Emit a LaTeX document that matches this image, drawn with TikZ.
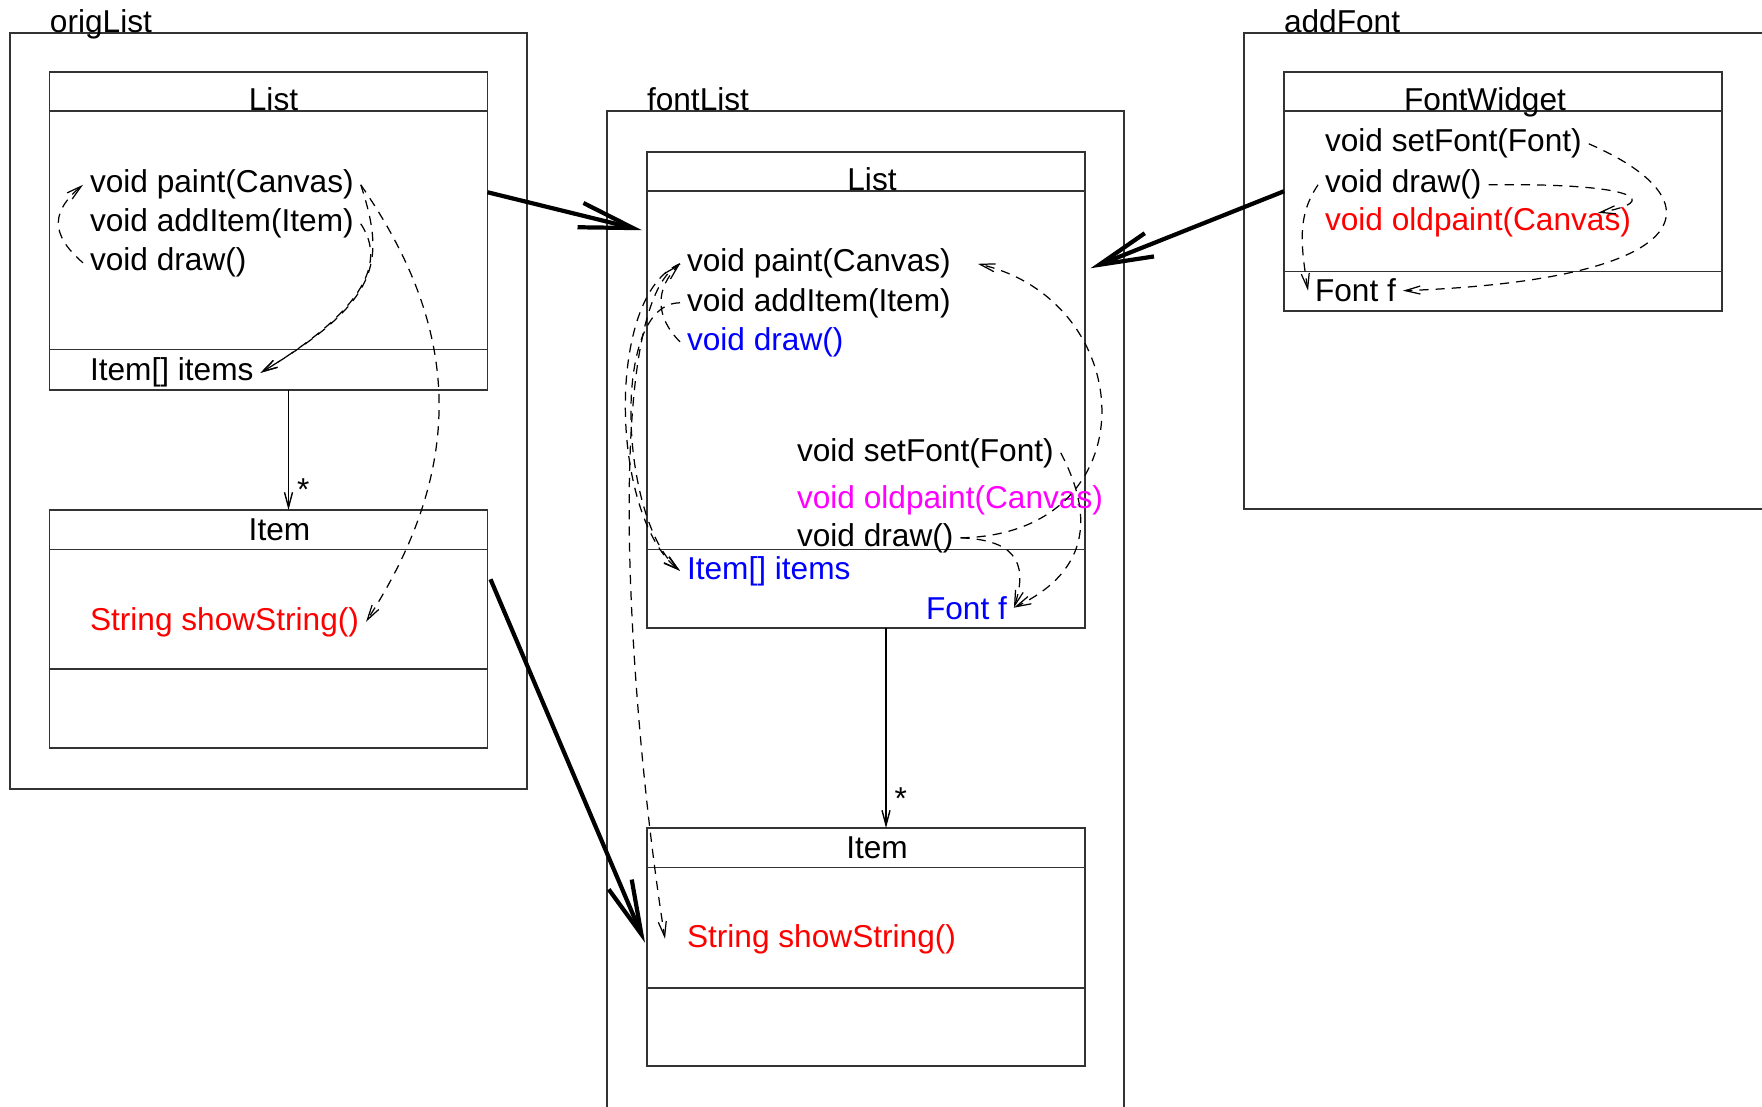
\documentclass[tikz,border=0pt]{standalone}
\usepackage{fontspec}
\setmainfont{Liberation Sans}
\usetikzlibrary{positioning,arrows.meta}
\definecolor{opmagenta}{RGB}{255,0,255}

\begin{document}
\begin{tikzpicture}[
	font=\fontsize{9pt}{11pt}\selectfont,
	pkgframe/.style={rectangle, draw=black!80, line width=0.4pt, inner sep=0pt, outer sep=0pt},
	framelabel/.style={anchor=base west, inner sep=0pt, outer sep=0pt},
	compart/.style={rectangle, draw=black!80, line width=0.4pt, minimum width=4.38cm, inner sep=0pt, outer sep=0pt},
	classname/.style={inner sep=0pt, outer sep=0pt},
	lowname/.style={text height=3.9mm, text depth=0pt},
	member/.style={anchor=base west, inner sep=0pt, outer sep=2pt},
	mult/.style={anchor=west, inner sep=0pt, xshift=0.8mm},
	assoc/.style={line width=0.4pt, -{Straight Barb[length=1.5mm,width=0.8mm]}},
	dep/.style={line width=0.35pt, dash pattern=on 2.6pt off 2pt, -{Straight Barb[length=1.5mm,width=0.8mm]}},
	refine/.style={line width=1.2pt, -{Straight Barb[length=5.4mm,width=2.5mm]}}
	]
	
	\useasboundingbox (0,0) rectangle (17.62,-11.06);
	\clip (0,0) rectangle (17.62,-11.06);
	
	%Frames
	\node (oFrame) at (2.685,-4.11) [pkgframe, minimum width=5.17cm, minimum height=7.56cm] {};
	\node (fFrame) at (8.655,-6.305) [pkgframe, minimum width=5.17cm, minimum height=10.39cm] {};
	\node (aFrame) at (15.22,-2.71) [pkgframe, minimum width=5.56cm, minimum height=4.76cm] {};
	\node (oTitle) at ([xshift=4mm]oFrame.north west) [framelabel] {origList};
	\node (fTitle) at ([xshift=4mm]fFrame.north west) [framelabel] {fontList};
	\node (aTitle) at ([xshift=4mm]aFrame.north west) [framelabel] {addFont};
	
	%Classes
	\node (oListName) at (2.685,-0.915) [compart, minimum height=0.39cm] {};
	\node (oListOps) [compart, minimum height=2.385cm, below=0pt of oListName] {};
	\node (oListAttr) [compart, minimum height=0.405cm, below=0pt of oListOps] {};
	\node (oItemName) at (2.685,-5.2975) [compart, minimum height=0.395cm] {};
	\node (oItemOps) [compart, minimum height=1.195cm, below=0pt of oItemName] {};
	\node (oItemAttr) [compart, minimum height=0.79cm, below=0pt of oItemOps] {};
	
	\node (fListName) at (8.66,-1.715) [compart, minimum height=0.39cm] {};
	\node (fListOps) [compart, minimum height=3.585cm, below=0pt of fListName] {};
	\node (fListAttr) [compart, minimum height=0.785cm, below=0pt of fListOps] {};
	\node (fItemName) at (8.66,-8.4775) [compart, minimum height=0.395cm] {};
	\node (fItemOps) [compart, minimum height=1.205cm, below=0pt of fItemName] {};
	\node (fItemAttr) [compart, minimum height=0.78cm, below=0pt of fItemOps] {};
	
	\node (wName) at (15.03,-0.915) [compart, minimum height=0.39cm] {};
	\node (wOps) [compart, minimum height=1.605cm, below=0pt of wName] {};
	\node (wAttr) [compart, minimum height=0.395cm, below=0pt of wOps] {};
	
	%Class names
	\node (oListTxt) at ([xshift=0.5mm]oListName.center) [classname, lowname] {List};
	\node (oItemTxt) at ([xshift=1.1mm]oItemName.center) [classname] {Item};
	\node (fListTxt) at ([xshift=0.6mm]fListName.center) [classname, lowname] {List};
	\node (fItemTxt) at ([xshift=1.1mm]fItemName.center) [classname] {Item};
	\node (wTxt) at ([xshift=-1.8mm]wName.center) [classname, lowname] {FontWidget};
	
	%Members
	\node (oPaint) at (0.83,-1.93) [member] {void paint(Canvas)};
	\node (oAdd) at (0.83,-2.32) [member] {void addItem(Item)};
	\node (oDraw) at (0.83,-2.71) [member] {void draw()};
	\node (oItems) at (0.83,-3.81) [member] {Item[] items};
	\node (oShow) at (0.83,-6.30) [member, text=red] {String showString()};
	
	\node (fPaint) at (6.80,-2.72) [member] {void paint(Canvas)};
	\node (fAdd) at (6.80,-3.11) [member] {void addItem(Item)};
	\node (fDraw) at (6.80,-3.50) [member, text=blue] {void draw()};
	\node (fSetFont) at (7.90,-4.61) [member] {void setFont(Font)};
	\node (fOldPaint) at (7.90,-5.08) [member, text=opmagenta] {void oldpaint(Canvas)};
	\node (fDraw2) at (7.90,-5.46) [member] {void draw()};
	\node (fItems) at (6.80,-5.79) [member, text=blue] {Item[] items};
	\node (fFont) at (9.19,-6.19) [member, text=blue] {Font f};
	\node (fShow) at (6.80,-9.47) [member, text=red] {String showString()};
	
	\node (wSetFont) at (13.18,-1.52) [member] {void setFont(Font)};
	\node (wDraw) at (13.18,-1.93) [member] {void draw()};
	\node (wOldPaint) at (13.18,-2.31) [member, text=red] {void oldpaint(Canvas)};
	\node (wFont) at (13.08,-3.02) [member] {Font f};
	
	%Links
	\draw [assoc] ([xshift=2mm]oListAttr.south) -- node[mult, pos=0.83] (oStar) {*} ([xshift=2mm]oItemName.north);
	\draw [assoc] ([xshift=2mm]fListAttr.south) -- node[mult, pos=0.855] (fStar) {*} ([xshift=2mm]fItemName.north);
	
	\draw [refine] ([yshift=3.8mm]oListOps.east) -- ([xshift=-0.5mm,yshift=14mm]fListOps.west);
	\draw [refine] (wOps.west) -- ([xshift=0.55mm,yshift=10.2mm]fListOps.east);
	\draw [refine] ([xshift=0.3mm,yshift=3mm]oItemOps.east) -- ([xshift=-0.2mm,yshift=-1.5mm]fItemOps.west);
	
	\draw [dep] (oPaint.east) .. controls +(0.9,-1.3) and +(1.1,1.7) .. (oShow.east);
	\draw [dep] (oPaint.east) .. controls +(0.25,-0.77) and +(1.2,0.72) .. (oItems.east);
	\draw [dep] (oAdd.east) .. controls +(0.2,-0.3) and +(1.2,0.72) .. (oItems.east);
	\draw [dep] (oDraw.west) .. controls +(-0.35,0.3) and +(-0.3,-0.25) .. (oPaint.west);
	
	\draw [dep] (fDraw.west) .. controls +(-0.25,0.25) and +(-0.25,-0.25) .. (fPaint.west);
	\draw [dep] (fPaint.west) .. controls +(-0.75,-0.3) and +(-0.7,0.55) .. (fItems.west);
	\draw [dep] (fAdd.west) .. controls +(-0.7,0) and +(-0.6,0.5) .. (fItems.west);
	\draw [dep] (fPaint.west) .. controls +(-0.8,-0.4) and +(-0.35,2.2) .. ([xshift=-1.5mm]fShow.west);
	\draw [dep] (fDraw2.east) .. controls +(1.9,0.03) and +(1.63,-0.38) .. ([xshift=2mm]fPaint.east);
	\draw [dep] (fSetFont.east) .. controls +(0.3,-0.57) and +(0.81,0.39) .. (fFont.east);
	\draw [dep] (fDraw2.east) .. controls +(0.5,-0.02) and +(0.16,0.49) .. (fFont.east);
	
	\draw [dep] (wSetFont.east) .. controls +(1.32,-0.57) and +(2.97,0.11) .. (wFont.east);
	\draw [dep] (wDraw.east) .. controls +(1.52,0.02) and +(0.63,0.11) .. ([xshift=-4mm,yshift=1mm]wOldPaint.east);
	\draw [dep] (wDraw.west) .. controls +(-0.2,-0.3) and +(-0.08,0.5) .. (wFont.west);
	
\end{tikzpicture}
\end{document}
